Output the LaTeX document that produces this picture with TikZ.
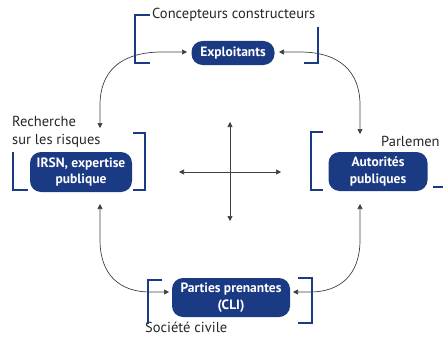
\documentclass[tikz,border=0pt]{standalone}
\usepackage{fontspec}
\setmainfont{PT Sans}
\usetikzlibrary{arrows.meta}
\definecolor{nodeblue}{HTML}{1B3A84}
\begin{document}
\begin{tikzpicture}[x=1pt,y=-1pt,
  box/.style={fill=nodeblue,rounded corners=11pt,text=white,font=\bfseries\fontsize{13.5}{16.5}\selectfont,align=center,inner sep=0pt},
  brk/.style={draw=nodeblue,line width=2.6pt},
  lbl/.style={font=\fontsize{14.5}{18}\selectfont,inner sep=0pt,text=black!85},
  conn/.style={draw=black!75,line width=0.7pt,{Triangle[length=5pt,width=5pt]}-{Triangle[length=5pt,width=5pt]}}]
\useasboundingbox (0,0) rectangle (443,337);
% nodes
\node[box,minimum width=83pt,minimum height=24pt] (expl) at (233,53) {Exploitants};
\node[box,minimum width=102pt,minimum height=40pt] (irsn) at (81,172) {IRSN, expertise\\publique};
\node[box,minimum width=99pt,minimum height=39pt] (auto) at (378,171.5) {Autorités\\publiques};
\node[box,minimum width=118pt,minimum height=39pt] (part) at (231,297.5) {Parties prenantes\\(CLI)};
% labels
\node[lbl,anchor=west] (lconc) at (152,15) {Concepteurs constructeurs};
\node[lbl,anchor=north west,align=left] (lrech) at (12,116) {Recherche\\sur les risques};
\node[lbl,anchor=west] (lparl) at (381,141) {Parlemen};
\node[lbl,anchor=west] (lsoc) at (145,327) {Société civile};
% brackets
\draw[brk] (150,15) -- (135,15) -- (135,63) -- (150,63);
\draw[brk] (318,27) -- (318,63) -- (304,63);
\draw[brk] (13,152) -- (13,190) -- (28,190);
\draw[brk] (133,133) -- (145,133) -- (145,190) -- (133,190);
\draw[brk] (323,132) -- (311,132) -- (311,190) -- (323,190);
\draw[brk] (433,187) -- (443,187);
\draw[brk] (162,280) -- (148,280) -- (148,324);
\draw[brk] (298,278) -- (312,278) -- (312,323) -- (298,323);
% connector end points
\coordinate (e1) at (187,52);
\coordinate (e2) at (279,52);
\coordinate (i1) at (100,128);
\coordinate (i2) at (100,204);
\coordinate (a1) at (360,134);
\coordinate (a2) at (360,204);
\coordinate (p1) at (169,292);
\coordinate (p2) at (293,292);
\draw[conn] (e1) -- (162,52) .. controls (120,52) and (100,72) .. (100,105) -- (i1);
\draw[conn] (e2) -- (300,52) .. controls (340,52) and (360,72) .. (360,105) -- (a1);
\draw[conn] (i2) -- (100,240) .. controls (100,275) and (120,292) .. (150,292) -- (p1);
\draw[conn] (a2) -- (360,240) .. controls (360,275) and (340,292) .. (310,292) -- (p2);
% cross
\coordinate (cn) at (230,122);
\coordinate (cs) at (230,221);
\coordinate (cw) at (179,172);
\coordinate (ce) at (281,172);
\draw[conn] (cn) -- (cs);
\draw[conn] (cw) -- (ce);
\end{tikzpicture}
\end{document}
